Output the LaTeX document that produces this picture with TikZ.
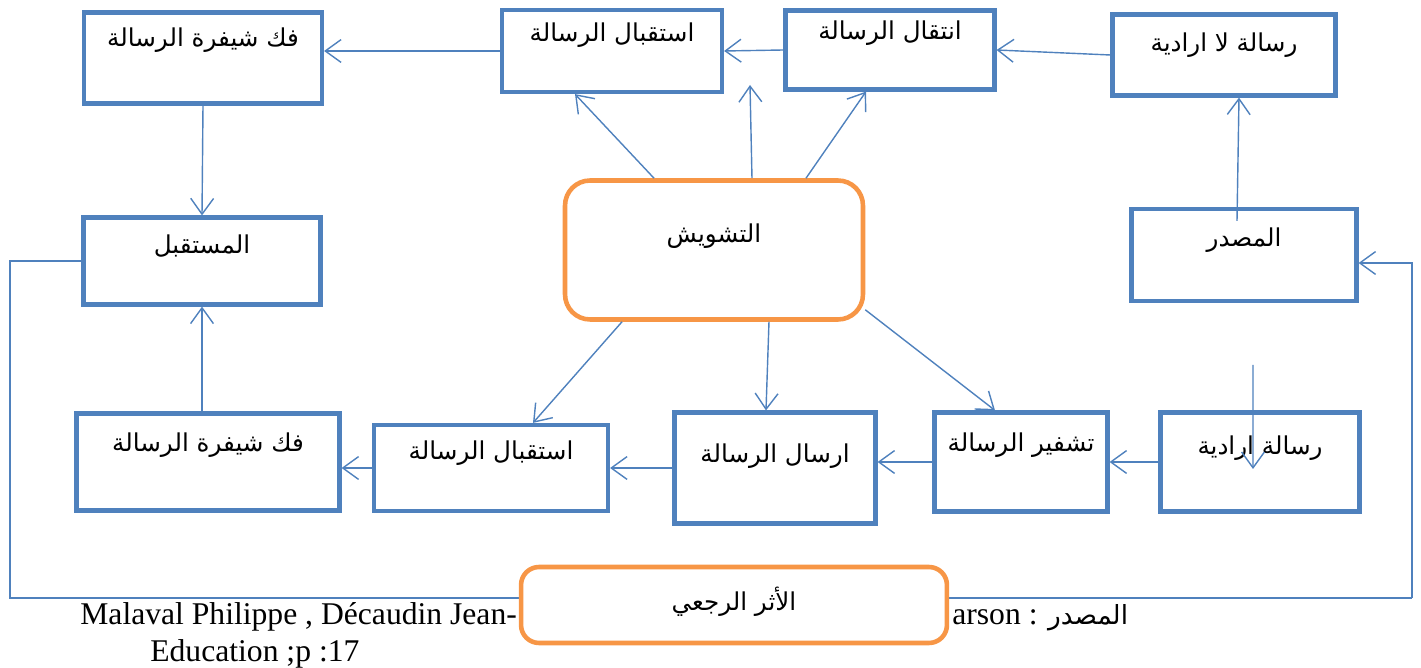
\documentclass[tikz,border=0pt]{standalone}
\usepackage{fontspec}
\setmainfont{Liberation Serif}
\newfontfamily\arabicfont[Script=Arabic]{DejaVu Sans}
\TeXXeTstate=1
\usetikzlibrary{arrows.meta,positioning}
\definecolor{stageblue}{RGB}{79,129,189}
\definecolor{noiseorange}{RGB}{247,150,70}

\begin{document}
\begin{tikzpicture}[x=0.02cm, y=-0.02cm,
    stage/.style={draw=stageblue, line width=2.4pt, fill=white, inner sep=0pt},
    softbox/.style={draw=noiseorange, line width=2.6pt, fill=white, inner sep=0pt},
    lbl/.style={font=\arabicfont\fontsize{14}{17}\selectfont, inner sep=0pt},
    srctxt/.style={font=\fontsize{18}{21}\selectfont, inner sep=0pt, anchor=base west},
    conn/.style={draw=stageblue, line width=0.8pt, -{Straight Barb[length=9pt, width=13pt]}}]
    \useasboundingbox (0,0) rectangle (1421,668);
    % source line under the diagram
    \node[srctxt] (srcl) at (80,625) {Malaval Philippe , Décaudin Jean-};
    \node[srctxt] (srcr) at (952,625) {arson : {\arabicfont\fontsize{15}{18}\selectfont\beginR المصدر\endR}};
    \node[srctxt] (srcb) at (150,662) {Education ;p :17};
    % feedback loop, runs behind the feedback box
    \coordinate (fbl) at (10,598);
    \coordinate (fbr) at (1412,598);
    % top row
    \node[stage, minimum width=4.76cm, minimum height=1.82cm] (b1) at (203,58) {};
    \node[stage, minimum width=4.4cm, minimum height=1.64cm] (b2) at (612,51) {};
    \node[stage, minimum width=4.18cm, minimum height=1.58cm] (b3) at (890,50) {};
    \node[stage, minimum width=4.46cm, minimum height=1.62cm] (b4) at (1224,55) {};
    % middle row
    \node[stage, minimum width=4.74cm, minimum height=1.74cm] (b5) at (202,261) {};
    \node[softbox, rounded corners=0.5cm, minimum width=5.96cm, minimum height=2.78cm] (noise) at (714,250) {};
    \node[stage, minimum width=4.5cm, minimum height=1.84cm] (b6) at (1244,255) {};
    % bottom row
    \node[stage, minimum width=5.26cm, minimum height=1.94cm] (b7) at (208,462) {};
    \node[stage, minimum width=4.68cm, minimum height=1.72cm] (b8) at (491,468) {};
    \node[stage, minimum width=4.02cm, minimum height=2.22cm] (b9) at (775,468) {};
    \node[stage, minimum width=3.46cm, minimum height=1.98cm] (b10) at (1021,462) {};
    \node[stage, minimum width=3.98cm, minimum height=1.98cm] (b11) at (1260,462) {};
    \draw[stageblue, line width=0.8pt] (b5.west) -| (fbl) -- (fbr);
    \draw[conn] (fbr) |- ([yshift=-0.16cm]b6.east);
    \node[softbox, rounded corners=0.36cm, minimum width=8.52cm, minimum height=1.52cm] (fb) at (734,605) {};
    % labels
    \node[lbl] (t1) at ([yshift=-0.6cm]b1.north) {\beginR فك شيفرة الرسالة\endR};
    \node[lbl] (t2) at ([yshift=-0.54cm]b2.north) {\beginR استقبال الرسالة\endR};
    \node[lbl] (t3) at ([yshift=-0.5cm]b3.north) {\beginR انتقال الرسالة\endR};
    \node[lbl] (t4) at ([yshift=-0.66cm]b4.north) {\beginR رسالة لا ارادية\endR};
    \node[lbl] (t5) at ([yshift=-0.62cm]b5.north) {\beginR المستقبل\endR};
    \node[lbl] (tn) at ([yshift=-1.16cm]noise.north) {\beginR التشويش\endR};
    \node[lbl] (t6) at ([yshift=-0.66cm]b6.north) {\beginR المصدر\endR};
    \node[lbl] (t7) at ([yshift=-0.68cm]b7.north) {\beginR فك شيفرة الرسالة\endR};
    \node[lbl] (t8) at ([yshift=-0.6cm]b8.north) {\beginR استقبال الرسالة\endR};
    \node[lbl] (t9) at ([yshift=-0.92cm]b9.north) {\beginR ارسال الرسالة\endR};
    \node[lbl] (t10) at ([yshift=-0.7cm]b10.north) {\beginR تشفير الرسالة\endR};
    \node[lbl] (t11) at ([yshift=-0.76cm]b11.north) {\beginR رسالة ارادية\endR};
    \node[lbl] (tfb) at ([yshift=-0.74cm]fb.north) {\beginR الأثر الرجعي\endR};
    % message path, top
    \draw[conn] (b4.west) -- (b3.east);
    \draw[conn] (b3.west) -- (b2.east);
    \draw[conn] (b2.west) -- (b1.east |- b2.west);
    \draw[conn] (b1.south) -- (b5.north);
    \draw[conn] ([xshift=-0.14cm,yshift=-0.28cm]b6.north) -- ([xshift=0.3cm]b4.south);
    % message path, bottom
    \draw[conn] (b11.west) -- (b10.east);
    \draw[conn] (b10.west) -- (b9.east |- b10.west);
    \draw[conn] (b9.west) -- (b8.east |- b9.west);
    \draw[conn] (b8.west) -- (b7.east |- b8.west);
    \draw[conn] (b7.north -| b5.south) -- (b5.south);
    \coordinate (drop) at (1253,365);
    \draw[conn] (drop) -- ([xshift=-0.14cm,yshift=-0.14cm]b11.center);
    % noise acts on every step
    \coordinate (gap) at (750,85);
    \draw[conn] ([xshift=-1.2cm]noise.north) -- ([xshift=-0.74cm]b2.south);
    \draw[conn] ([xshift=0.76cm]noise.north) -- (gap);
    \draw[conn] ([xshift=1.84cm]noise.north) -- ([xshift=-0.48cm]b3.south);
    \draw[conn] ([xshift=-1.84cm]noise.south) -- ([xshift=0.84cm]b8.north);
    \draw[conn] ([xshift=1.1cm]noise.south) -- ([xshift=-0.18cm]b9.north);
    \draw[conn] ([yshift=0.24cm]noise.south east) -- ([xshift=-0.52cm]b10.north);
\end{tikzpicture}
\end{document}
